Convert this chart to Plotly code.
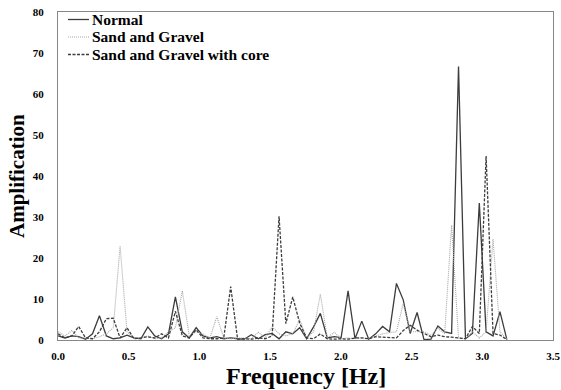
import plotly.graph_objects as go

freq_hz = [0.000, 0.049, 0.098, 0.146, 0.195, 0.244, 0.293, 0.342, 0.391, 0.439,
           0.488, 0.537, 0.586, 0.635, 0.684, 0.732, 0.781, 0.830, 0.879, 0.928,
           0.977, 1.025, 1.074, 1.123, 1.172, 1.221, 1.270, 1.318, 1.367, 1.416,
           1.465, 1.514, 1.563, 1.611, 1.660, 1.709, 1.758, 1.807, 1.855, 1.904,
           1.953, 2.002, 2.051, 2.100, 2.148, 2.197, 2.246, 2.295, 2.344, 2.393,
           2.441, 2.490, 2.539, 2.588, 2.637, 2.686, 2.734, 2.783, 2.832, 2.881,
           2.930, 2.979, 3.027, 3.076, 3.125, 3.174]

normal = [1.0, 0.5, 1.0, 0.8, 0.2, 1.5, 5.9, 1.0, 0.3, 0.5,
          1.2, 0.5, 0.3, 3.2, 1.0, 0.3, 1.5, 10.5, 2.0, 0.5,
          3.0, 1.0, 0.5, 0.8, 0.3, 0.5, 0.3, 0.2, 1.3, 0.3,
          1.3, 1.6, 0.3, 2.0, 1.5, 3.0, 0.3, 3.2, 6.5, 0.5,
          0.8, 0.6, 12.0, 0.3, 4.6, 0.2, 1.5, 3.3, 2.0, 13.8,
          9.8, 1.6, 6.7, 0.1, 0.2, 3.4, 2.0, 1.6, 66.7, 0.3,
          1.6, 33.4, 2.0, 1.0, 6.9, 0.1]

sand_gravel = [2.0, 1.0, 2.3, 0.5, 0.5, 0.3, 0.8, 1.5, 3.0, 22.9,
               2.0, 0.5, 0.5, 1.0, 0.3, 0.5, 2.0, 3.0, 12.0, 1.0,
               2.0, 1.5, 0.5, 5.7, 0.5, 0.3, 0.5, 0.5, 0.3, 1.9,
               0.5, 3.2, 1.5, 1.0, 1.5, 5.0, 0.5, 2.0, 11.2, 0.5,
               1.9, 0.3, 0.5, 0.3, 0.5, 0.3, 1.0, 1.5, 1.8, 2.0,
               8.9, 2.0, 2.0, 2.0, 1.2, 2.8, 1.6, 28.0, 0.5, 0.3,
               2.0, 0.5, 2.0, 24.6, 2.0, 0.2]

sand_gravel_core = [1.5, 0.5, 1.0, 3.3, 0.5, 0.3, 2.0, 5.2, 5.3, 0.5,
                    3.0, 0.3, 0.5, 0.8, 0.5, 1.5, 0.5, 7.0, 1.0, 0.5,
                    2.5, 0.5, 0.3, 0.3, 0.5, 13.0, 0.2, 0.3, 0.2, 0.5,
                    0.3, 1.0, 30.2, 4.0, 10.5, 4.1, 0.5, 0.3, 1.5, 0.3,
                    0.2, 0.3, 0.2, 0.5, 0.5, 0.3, 0.8, 0.7, 0.6, 0.5,
                    2.3, 3.6, 2.4, 1.6, 0.8, 1.2, 0.8, 0.7, 0.5, 0.3,
                    3.3, 1.6, 44.9, 1.6, 1.2, 0.1]

series_names = ["Normal", "Sand and Gravel", "Sand and Gravel with core"]
x_ticks = [0.0, 0.5, 1.0, 1.5, 2.0, 2.5, 3.0, 3.5]
y_ticks = [0, 10, 20, 30, 40, 50, 60, 70, 80]

FONT = "Liberation Serif, Times New Roman, serif"

styles = [
    dict(color="#3c3c3c", width=1.3),
    dict(color="#a6a6a6", width=1.1, dash="1px,1px"),
    dict(color="#3c3c3c", width=1.3, dash="3px,1.5px"),
]
series_values = [normal, sand_gravel, sand_gravel_core]

fig = go.Figure()
for name, vals, st in zip(series_names, series_values, styles):
    fig.add_trace(go.Scatter(x=freq_hz, y=vals, mode="lines", name=name,
                             line=st, showlegend=False, hoverinfo="skip"))

# legend drawn manually (compact rows as in the reference)
L, R, T, B = 58, 8, 12, 50
pw, ph = 561 - L - R, 390 - T - B
def px_x(p):
    return (p - L) / pw
def px_y(p):
    return 1 - (p - T) / ph

legend_rows = [19.5, 37, 54.5]
for name, st, row in zip(series_names, styles, legend_rows):
    fig.add_shape(type="line", xref="paper", yref="paper",
                  x0=px_x(68), x1=px_x(89), y0=px_y(row), y1=px_y(row),
                  line=st)
    fig.add_annotation(x=px_x(91), y=px_y(row), xref="paper", yref="paper",
                       xanchor="left", yanchor="middle", showarrow=False,
                       height=15, borderpad=0,
                       text="<b>" + name + "</b>",
                       font=dict(family=FONT, size=15.5, color="black"))

fig.add_annotation(x=0.5, y=px_y(376), xref="paper", yref="paper",
                   xanchor="center", yanchor="middle", showarrow=False,
                   text="<b>Frequency [Hz]</b>",
                   font=dict(family=FONT, size=24, color="black"))
fig.add_annotation(x=-(L - 17) / pw, y=0.5, xref="paper", yref="paper",
                   xanchor="center", yanchor="middle", showarrow=False,
                   textangle=-90, text="<b>Amplification</b>",
                   font=dict(family=FONT, size=21, color="black"))

fig.update_layout(
    width=561, height=390,
    margin=dict(l=L, r=R, t=T, b=B, autoexpand=False),
    paper_bgcolor="white", plot_bgcolor="white",
    font=dict(family=FONT, color="black"),
    showlegend=False,
    xaxis=dict(range=[0, 3.5], tickvals=x_ticks, tickformat=".1f",
               showgrid=False, zeroline=False, automargin=False,
               showline=True, linecolor="#888888", linewidth=1, mirror=True,
               ticks="", ticklabelstandoff=6,
               tickfont=dict(family=FONT, size=11, color="black", weight="bold")),
    yaxis=dict(range=[0, 80], tickvals=y_ticks,
               showgrid=False, zeroline=False, automargin=False,
               showline=True, linecolor="#888888", linewidth=1, mirror=True,
               ticks="", ticklabelstandoff=11,
               tickfont=dict(family=FONT, size=11, color="black", weight="bold")),
)

fig.write_html("out.html", config={"displayModeBar": False},
               post_script="document.body.style.margin='0';document.body.style.padding='0';")
